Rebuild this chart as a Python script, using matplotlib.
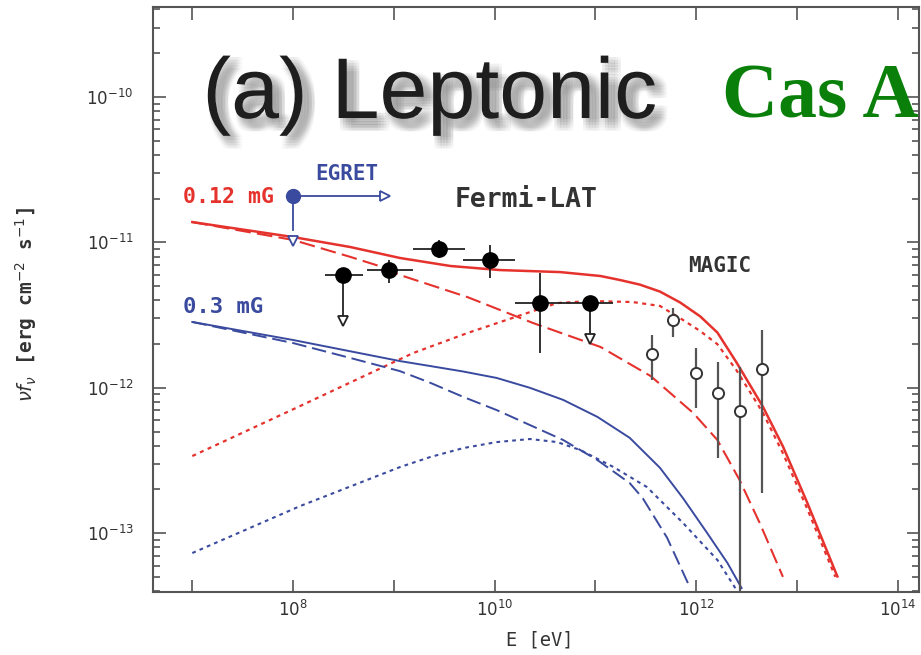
import numpy as np
import matplotlib
matplotlib.use('Agg')
import matplotlib.pyplot as plt
import matplotlib.patheffects as pe
from matplotlib import font_manager
from matplotlib.ticker import FixedLocator, FixedFormatter, LogLocator, NullLocator, NullFormatter

# model curves: log10(E / eV) and log10(nu F_nu / erg cm^-2 s^-1)
red_tot_logE = [7.0, 8.0, 8.57, 9.06, 9.56, 10.05, 10.65, 11.05, 11.24, 11.44, 11.64, 11.84, 12.04, 12.21, 12.40,
                12.66, 12.86, 13.10, 13.40]
red_tot_logF = [-10.86, -10.963, -11.032, -11.107, -11.162, -11.19, -11.204, -11.231, -11.258, -11.29, -11.338,
                -11.413, -11.509, -11.62, -11.826, -12.128, -12.403, -12.788, -13.297]
red_dot_logE = [7.0, 8.07, 9.19, 9.73, 10.32, 10.62, 10.95, 11.37, 11.64, 11.87, 12.04, 12.21, 12.40, 12.66, 12.86,
                13.10, 13.38]
red_dot_logF = [-12.469, -12.125, -11.761, -11.623, -11.486, -11.417, -11.403, -11.41, -11.437, -11.534, -11.61,
                -11.70, -11.88, -12.17, -12.45, -12.83, -13.30]
red_dash_logE = [7.0, 8.0, 8.57, 8.89, 9.06, 9.73, 10.38, 11.05, 11.55, 11.97, 12.21, 12.43, 12.63, 12.86]
red_dash_logF = [-10.86, -10.983, -11.10, -11.17, -11.224, -11.376, -11.554, -11.719, -11.92, -12.173, -12.359,
                 -12.634, -12.93, -13.30]

blue_tot_logE = [7.0, 8.0, 9.06, 9.36, 9.69, 10.02, 10.35, 10.68, 11.02, 11.34, 11.64, 11.87, 12.10, 12.31, 12.45]
blue_tot_logF = [-11.547, -11.671, -11.816, -11.85, -11.888, -11.932, -12.0, -12.083, -12.2, -12.344, -12.55,
                 -12.76, -12.99, -13.205, -13.377]
blue_dash_logE = [7.0, 8.0, 8.57, 9.06, 9.36, 9.69, 10.02, 10.35, 10.68, 11.02, 11.34, 11.47, 11.71, 11.94]
blue_dash_logF = [-11.547, -11.692, -11.795, -11.885, -11.965, -12.063, -12.153, -12.256, -12.359, -12.497, -12.655,
                  -12.76, -13.03, -13.377]
blue_dot_logE = [7.0, 8.07, 9.06, 9.36, 9.69, 10.02, 10.35, 10.62, 10.85, 11.18, 11.51, 11.87, 12.21, 12.40]
blue_dot_logF = [-13.136, -12.813, -12.545, -12.476, -12.414, -12.373, -12.352, -12.373, -12.428, -12.545, -12.682,
                 -12.93, -13.184, -13.391]

# EGRET point with limits
egret_logE = 8.0
egret_logF = -10.681
egret_arrow_logE = 9.01
egret_ul_logF = -10.963

# Fermi-LAT
fermi_logE = [8.5, 8.95, 9.45, 9.95, 10.45, 10.95]
fermi_lo_logE = [8.32, 8.73, 9.19, 9.69, 10.20, 10.72]
fermi_hi_logE = [8.69, 9.19, 9.71, 10.20, 10.72, 11.17]
fermi_logF = [-11.224, -11.19, -11.045, -11.121, -11.417, -11.417]
fermi_up_logF = [np.nan, -11.12, -10.98, -11.02, -11.21, np.nan]
fermi_dn_logF = [np.nan, -11.28, -11.11, -11.245, -11.76, np.nan]
fermi_ul_idx = [0, 5]
fermi_ul_logF = [-11.568, -11.692]

# MAGIC
magic_logE = [11.56, 11.77, 12.0, 12.22, 12.43, 12.65]
magic_logF = [-11.768, -11.534, -11.898, -12.036, -12.16, -11.871]
magic_up_logF = [-11.637, -11.451, -11.726, -11.822, -11.857, -11.602]
magic_dn_logF = [-11.946, -11.651, -12.139, -12.483, -14.0, -12.724]

x_ticks = [1e7, 1e8, 1e9, 1e10, 1e11, 1e12, 1e13, 1e14]
x_ticklabels = ['', r'$10^{8}$', '', r'$10^{10}$', '', r'$10^{12}$', '', r'$10^{14}$']
y_ticks = [1e-13, 1e-12, 1e-11, 1e-10]
y_ticklabels = [r'$10^{-13}$', r'$10^{-12}$', r'$10^{-11}$', r'$10^{-10}$']

RED = '#e5322d'
BLUE = '#3a4a9e'
W, H = 921, 655

names = {f.name for f in font_manager.fontManager.ttflist}
if 'Liberation Sans Narrow' in names:
    title_font, title_size = 'Liberation Sans Narrow', 76
else:
    title_font, title_size = 'Liberation Sans', 62
mono = 'DejaVu Sans Mono'


def p(v):
    return 10 ** np.asarray(v, dtype=float)


def fpx(x, y):
    return x / W, 1 - y / H


fig = plt.figure(figsize=(W / 100, H / 100), dpi=100)
ax = fig.add_axes([153 / W, 1 - 592 / H, (919 - 153) / W, (592 - 7) / H])
ax.set_xscale('log')
ax.set_yscale('log')

# curves
ax.plot(p(red_tot_logE), p(red_tot_logF), color=RED, lw=1.8)
ax.plot(p(red_dash_logE), p(red_dash_logF), color=RED, lw=1.5, dashes=(7.5, 3))
ax.plot(p(red_dot_logE), p(red_dot_logF), color=RED, lw=1.6, dashes=(1.8, 2.0))
ax.plot(p(blue_tot_logE), p(blue_tot_logF), color=BLUE, lw=1.4)
ax.plot(p(blue_dash_logE), p(blue_dash_logF), color=BLUE, lw=1.4, dashes=(7.5, 3))
ax.plot(p(blue_dot_logE), p(blue_dot_logF), color=BLUE, lw=1.5, dashes=(1.8, 2.0))

# EGRET
ax.plot(p([egret_logE, egret_arrow_logE - 0.08]), p([egret_logF, egret_logF]), color=BLUE, lw=1.3)
ax.plot(p([egret_logE, egret_logE]), p([egret_logF, egret_ul_logF + 0.05]), color=BLUE, lw=1.3)
ax.plot(p([egret_arrow_logE - 0.1]), p([egret_logF]), marker='>', ms=7, mfc='white', mec=BLUE, mew=1.3, ls='none')
ax.plot(p([egret_logE]), p([egret_ul_logF - 0.03]), marker='v', ms=7, mfc='white', mec=BLUE, mew=1.3, ls='none')
ax.plot(p([egret_logE]), p([egret_logF]), 'o', ms=10, color=BLUE, zorder=5)

# Fermi-LAT
fe = p(fermi_logE)
ff = p(fermi_logF)
ax.hlines(ff, p(fermi_lo_logE), p(fermi_hi_logE), color='#222', lw=1.3, zorder=4)
ax.vlines(fe, p(fermi_dn_logF), p(fermi_up_logF), color='#222', lw=1.3, zorder=4)
for i, ul in zip(fermi_ul_idx, fermi_ul_logF):
    ax.plot([fe[i], fe[i]], [ff[i], p(ul + 0.04)], color='#222', lw=1.3, zorder=4)
    ax.plot([fe[i]], [p(ul + 0.03)], marker='v', ms=7, mfc='white', mec='#222', mew=1.3, zorder=5)
ax.plot(fe, ff, 'o', ms=11, color='black', zorder=6)

# MAGIC
me = p(magic_logE)
ax.vlines(me, p(magic_dn_logF), p(magic_up_logF), color='#555', lw=1.6, zorder=4)
ax.plot(me, p(magic_logF), 'o', ms=8, mfc='white', mec='#333', mew=1.4, zorder=6)

# axes
ax.set_xlim(10 ** 6.61, 10 ** 14.21)
ax.set_ylim(10 ** -13.404, 10 ** -9.381)
ax.xaxis.set_major_locator(FixedLocator(x_ticks))
ax.xaxis.set_major_formatter(FixedFormatter(x_ticklabels))
ax.xaxis.set_minor_locator(NullLocator())
ax.yaxis.set_major_locator(FixedLocator(y_ticks))
ax.yaxis.set_major_formatter(FixedFormatter(y_ticklabels))
ax.yaxis.set_minor_locator(LogLocator(base=10, subs=np.arange(2, 10)))
ax.yaxis.set_minor_formatter(NullFormatter())
ax.tick_params(which='both', direction='in', top=True, right=True, color='#555', width=1.2)
ax.tick_params(which='major', length=9, labelsize=12, labelcolor='#333')
ax.tick_params(which='minor', length=5)
ax.tick_params(axis='y', pad=14)
ax.tick_params(axis='x', pad=6)
for s in ax.spines.values():
    s.set_color('#555')
    s.set_linewidth(1.5)

# labels
fig.text(*fpx(26, 305), r'$\nu f_\nu$ [erg cm$^{-2}$ s$^{-1}$]', rotation=90, ha='center', va='center',
         fontsize=14, family=mono, weight='bold', color='#333')
fig.text(*fpx(540, 645), 'E [eV]', ha='center', va='baseline', fontsize=13.5, family=mono, color='#333')

fig.text(*fpx(183, 203), '0.12 mG', fontsize=15.5, family=mono, weight='bold', color=RED, va='baseline')
fig.text(*fpx(183, 313), '0.3 mG', fontsize=16, family=mono, weight='bold', color=BLUE, va='baseline')
fig.text(*fpx(315, 180), 'EGRET', fontsize=15, family=mono, weight='bold', color=BLUE, va='baseline')
fig.text(*fpx(455, 207), 'Fermi-LAT', fontsize=19, family=mono, weight='bold', color='#333', va='baseline')
fig.text(*fpx(688, 272), 'MAGIC', fontsize=15, family=mono, weight='bold', color='#333', va='baseline')

shadow = [pe.SimplePatchShadow(offset=(dx, -dy), shadow_rgbFace='0.45', alpha=0.05)
          for dx in (1, 3, 5, 7, 9) for dy in (1, 3, 5, 7, 9)] + [pe.Normal()]
fig.text(*fpx(430, 118), '(a) Leptonic', ha='center', va='baseline', fontsize=title_size,
         family=title_font, color='#1e1e1e', path_effects=shadow)
fig.text(*fpx(722, 118), 'Cas A', ha='left', va='baseline', fontsize=56, family='Liberation Serif',
         weight='bold', color='#0a800a')

fig.savefig('out.png', dpi=100)
